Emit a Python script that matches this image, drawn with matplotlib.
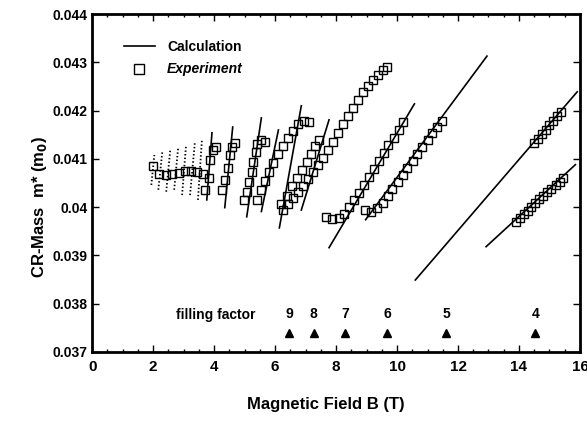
import matplotlib
matplotlib.use("Agg")
import matplotlib.pyplot as plt
from matplotlib.lines import Line2D
from matplotlib.ticker import MultipleLocator

plt.rcParams['font.family'] = ['Liberation Sans Narrow', 'Liberation Sans', 'DejaVu Sans']
plt.rcParams['font.weight'] = 'bold'

# calculated lines, (B0, B1) and (m0, m1) end points
calc_B = [(3.76, 3.93), (4.35, 4.61), (5.07, 5.55), (5.55, 6.11), (6.14, 6.86),
          (6.86, 7.77), (7.77, 10.57), (8.97, 12.95), (10.60, 15.91), (12.92, 15.85)]
calc_m = [(0.04015, 0.04154), (0.03999, 0.04166), (0.03980, 0.04185), (0.03991, 0.04160),
          (0.03957, 0.04210), (0.03994, 0.04181), (0.03916, 0.04214), (0.03974, 0.04313),
          (0.03849, 0.04239), (0.03918, 0.04088)]

# low field calculation (drawn dotted)
dot_B = [(1.94, 2.04), (2.17, 2.30), (2.43, 2.56), (2.69, 2.82), (2.95, 3.08), (3.21, 3.37), (3.47, 3.60)]
dot_m = [(0.04046, 0.04108), (0.04036, 0.04114), (0.04032, 0.04118), (0.04036, 0.04123),
         (0.04025, 0.04129), (0.04025, 0.04135), (0.04015, 0.04139)]

# experiment
exp_B = [
    [2.00, 2.20, 2.43, 2.62, 2.85, 3.05, 3.24, 3.44, 3.63, 3.83],
    [3.70, 3.86, 3.98, 4.05],
    [4.25, 4.35, 4.45, 4.51, 4.58, 4.67],
    [4.97, 5.07, 5.16, 5.23, 5.29, 5.36, 5.42, 5.55, 5.68],
    [5.42, 5.55, 5.68, 5.81, 5.94, 6.11, 6.27, 6.43, 6.60, 6.76, 6.95, 7.12],
    [6.18, 6.40, 6.56, 6.72, 6.89, 7.05, 7.18, 7.31, 7.44],
    [6.27, 6.43, 6.60, 6.76, 6.92, 7.08, 7.25, 7.41, 7.57, 7.74, 7.90, 8.06, 8.23, 8.39,
     8.55, 8.71, 8.88, 9.04, 9.20, 9.36, 9.53, 9.66],
    [7.67, 7.87, 8.09, 8.26, 8.42, 8.58, 8.74, 8.91, 9.07, 9.23, 9.40, 9.56, 9.72, 9.89,
     10.05, 10.21],
    [8.94, 9.14, 9.33, 9.53, 9.69, 9.85, 10.02, 10.18, 10.34, 10.51, 10.67, 10.83, 11.00,
     11.16, 11.32, 11.49],
    [14.48, 14.61, 14.74, 14.87, 15.00, 15.13, 15.26, 15.39],
    [13.89, 14.02, 14.15, 14.28, 14.41, 14.54, 14.67, 14.80, 14.93, 15.06, 15.20, 15.33, 15.46],
]
exp_m = [
    [0.04086, 0.04069, 0.04066, 0.04069, 0.04071, 0.04075, 0.04075, 0.04073, 0.04069, 0.04061],
    [0.04036, 0.04098, 0.04119, 0.04125],
    [0.04036, 0.04057, 0.04081, 0.04108, 0.04125, 0.04133],
    [0.04015, 0.04032, 0.04052, 0.04073, 0.04094, 0.04114, 0.04131, 0.04139, 0.04135],
    [0.04015, 0.04036, 0.04054, 0.04073, 0.04092, 0.04110, 0.04127, 0.04143, 0.04158,
     0.04172, 0.04179, 0.04177],
    [0.04007, 0.04023, 0.04044, 0.04060, 0.04077, 0.04094, 0.04110, 0.04127, 0.04139],
    [0.03994, 0.04007, 0.04019, 0.04032, 0.04044, 0.04059, 0.04073, 0.04088, 0.04102,
     0.04119, 0.04135, 0.04154, 0.04172, 0.04189, 0.04206, 0.04222, 0.04239, 0.04251,
     0.04264, 0.04274, 0.04284, 0.04290],
    [0.03980, 0.03976, 0.03978, 0.03986, 0.04001, 0.04015, 0.04030, 0.04046, 0.04063,
     0.04079, 0.04096, 0.04112, 0.04129, 0.04143, 0.04160, 0.04177],
    [0.03994, 0.03990, 0.03999, 0.04009, 0.04023, 0.04038, 0.04052, 0.04067, 0.04081,
     0.04096, 0.04110, 0.04125, 0.04139, 0.04154, 0.04166, 0.04179],
    [0.04133, 0.04141, 0.04152, 0.04160, 0.04170, 0.04179, 0.04189, 0.04197],
    [0.03970, 0.03978, 0.03985, 0.03993, 0.04000, 0.04008, 0.04016, 0.04023, 0.04031,
     0.04038, 0.04046, 0.04053, 0.04061],
]

# filling factor marks
nu_labels = ['9', '8', '7', '6', '5', '4']
nu_B = [6.47, 7.27, 8.29, 9.67, 11.62, 14.54]

x_ticks = [0, 2, 4, 6, 8, 10, 12, 14, 16]
y_ticks = [0.037, 0.038, 0.039, 0.040, 0.041, 0.042, 0.043, 0.044]
y_ticklabels = ['0.037', '0.038', '0.039', '0.04', '0.041', '0.042', '0.043', '0.044']

fig = plt.figure(figsize=(5.87, 4.41), dpi=100)
ax = fig.add_axes([0.157, 0.202, 0.831, 0.766])

for bb, mm in zip(dot_B, dot_m):
    ax.plot(bb, mm, color='black', lw=1.3, ls=(0, (0.8, 1.2)))
for bb, mm in zip(calc_B, calc_m):
    ax.plot(bb, mm, color='black', lw=1.2)
for bb, mm in zip(exp_B, exp_m):
    ax.plot(bb, mm, ls='none', marker='s', ms=6.3, mfc='none', mec='black', mew=1.0)

# filling factor annotation
ax.text(4.07, 0.03777, 'filling factor', ha='center', va='center', fontsize=10)
for lab, b in zip(nu_labels, nu_B):
    ax.text(b, 0.03778, lab, ha='center', va='center', fontsize=10)
ax.plot(nu_B, [0.0374] * len(nu_B), ls='none', marker='^', ms=6, color='black')

ax.set_xlim(0, 16)
ax.set_ylim(0.037, 0.044)
ax.set_xticks(x_ticks)
ax.set_xticklabels([str(t) for t in x_ticks], fontsize=11)
ax.xaxis.set_minor_locator(MultipleLocator(0.5))
ax.set_yticks(y_ticks)
ax.set_yticklabels(y_ticklabels, fontsize=10)
ax.tick_params(which='both', direction='in', top=True, right=True, width=1.0)
ax.tick_params(which='major', length=5)
ax.tick_params(which='minor', length=2.5)
ax.tick_params(axis='x', pad=6)
for sp in ax.spines.values():
    sp.set_linewidth(2.0)

fig.text(0.555, 0.082, 'Magnetic Field B (T)', ha='center', va='center', fontsize=12)
fig.text(0.068, 0.53, r'CR-Mass  m* (m$_\mathbf{0}$)', ha='center', va='center',
         rotation=90, fontsize=12)

handles = [Line2D([], [], color='black', lw=1.2),
           Line2D([], [], ls='none', marker='s', ms=7, mfc='none', mec='black')]
leg = ax.legend(handles, ['Calculation', 'Experiment'], loc='upper left',
                bbox_to_anchor=(0.04, 0.96), frameon=False, fontsize=10,
                handlelength=2.2, handletextpad=0.9, labelspacing=0.6)
leg.get_texts()[1].set_style('italic')

fig.savefig('out.png', dpi=100)
